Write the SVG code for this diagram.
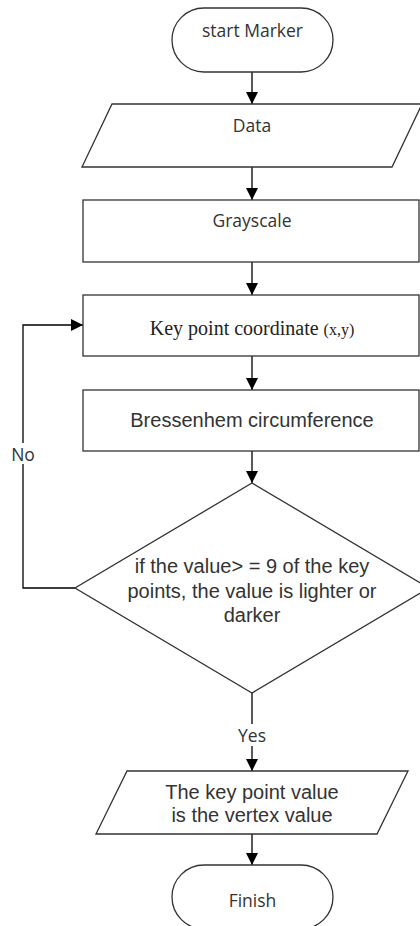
<svg xmlns="http://www.w3.org/2000/svg" width="420" height="926" viewBox="0 0 420 926">
<defs>
<style>
.shape{fill:#fff;stroke:#333;stroke-width:1.3}
.conn{fill:none;stroke:#000;stroke-width:1.3}
.sans{font-family:"Open Sans","Noto Sans","DejaVu Sans",sans-serif;font-size:17.5px;fill:#333;text-anchor:middle}
.arial{font-family:"Liberation Sans",Arial,sans-serif;font-size:20px;fill:#333;text-anchor:middle}
.serif{font-family:"Liberation Serif","Times New Roman",serif;font-size:20px;fill:#222;text-anchor:middle}
</style>
<marker id="arr" viewBox="0 0 12 12" refX="12" refY="6" markerWidth="12" markerHeight="12" orient="auto" markerUnits="userSpaceOnUse">
<path d="M0,0 L12,6 L0,12 z" fill="#000"/>
</marker>
</defs>
<rect width="420" height="926" fill="#fff"/>
<g id="connectors">
<line class="conn" x1="252" y1="72" x2="252" y2="104" marker-end="url(#arr)"/>
<line class="conn" x1="252" y1="167" x2="252" y2="200" marker-end="url(#arr)"/>
<line class="conn" x1="252" y1="262" x2="252" y2="295" marker-end="url(#arr)"/>
<line class="conn" x1="252" y1="356" x2="252" y2="390" marker-end="url(#arr)"/>
<line class="conn" x1="252" y1="451" x2="252" y2="483" marker-end="url(#arr)"/>
<line class="conn" x1="252" y1="693" x2="252" y2="771" marker-end="url(#arr)"/>
<line class="conn" x1="252" y1="834" x2="252" y2="865" marker-end="url(#arr)"/>
<polyline class="conn" points="75,588 23,588 23,325 83,325" marker-end="url(#arr)"/>
<rect x="8" y="443" width="30" height="21" fill="#fff"/>
<text class="sans" x="23" y="461" font-size="16">No</text>
<rect x="236" y="724" width="32" height="22" fill="#fff"/>
<text class="sans" x="252" y="742" font-size="16">Yes</text>
</g>
<g id="start">
<rect class="shape" x="172" y="8" width="161" height="64" rx="32"/>
<text class="sans" x="252.5" y="37">start Marker</text>
</g>
<g id="data">
<polygon class="shape" points="112,104 422,104 392,167 82,167"/>
<text class="sans" x="252" y="132">Data</text>
</g>
<g id="grayscale">
<rect class="shape" x="83" y="200" width="336" height="62"/>
<text class="sans" x="252" y="227">Grayscale</text>
</g>
<g id="keypoint">
<rect class="shape" x="83" y="295" width="336" height="61"/>
<text class="serif" x="252" y="335">Key point coordinate <tspan font-size="16">(x,y)</tspan></text>
</g>
<g id="bressenhem">
<rect class="shape" x="83" y="390" width="336" height="61"/>
<text class="arial" x="252" y="427">Bressenhem circumference</text>
</g>
<g id="decision">
<polygon class="shape" points="252,483 429,588 252,693 75,588"/>
<text class="arial" x="252" y="573">if the value&gt; = 9 of the key</text>
<text class="arial" x="252" y="598">points, the value is lighter or</text>
<text class="arial" x="252" y="622">darker</text>
</g>
<g id="output">
<polygon class="shape" points="127,771 408,771 377,834 96,834"/>
<text class="arial" x="252" y="799">The key point value</text>
<text class="arial" x="252" y="822">is the vertex value</text>
</g>
<g id="finish">
<rect class="shape" x="172" y="865" width="161" height="64" rx="32"/>
<text class="sans" x="252.5" y="907">Finish</text>
</g>
</svg>
